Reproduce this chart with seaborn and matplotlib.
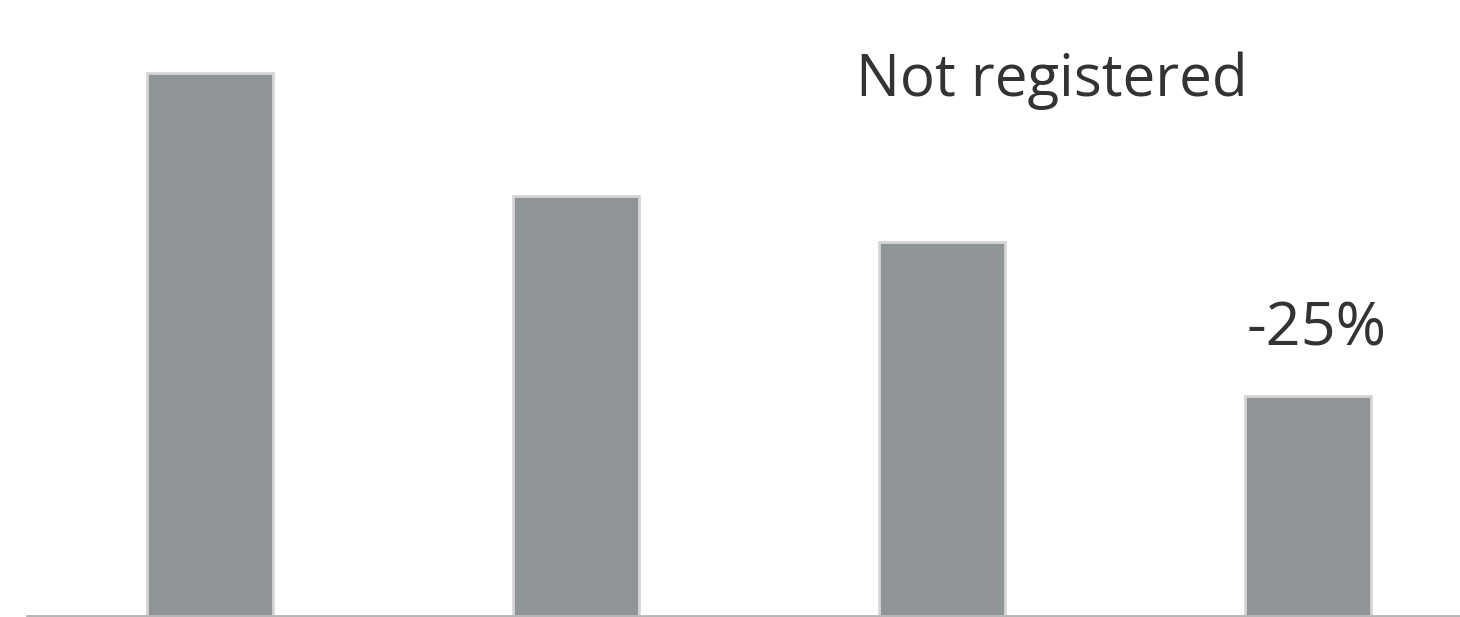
import matplotlib
matplotlib.use("Agg")
import matplotlib.pyplot as plt
import seaborn as sns
import pandas as pd

# Bar data
categories = ["A", "B", "C", "D"]
values = [543, 420, 374, 220]
title_text = "Not registered"
change_label = "-25%"

sns.set_theme(style="white")
plt.rcParams["font.family"] = ["Open Sans", "DejaVu Sans"]

df = pd.DataFrame({"category": categories, "value": values})

fig = plt.figure(figsize=(14.6, 6.17), dpi=100)
ax = fig.add_axes([27 / 1460, 1.5 / 617, 1 - 27 / 1460, 615 / 617])

sns.barplot(data=df, x="category", y="value", ax=ax, color="#8f9496",
            saturation=1, width=126 / 366, edgecolor="#d6d6d6", linewidth=2)

ax.set_xlim(-0.5, 3.415)
ax.set_ylim(0, 615)

for side in ["top", "right", "left"]:
    ax.spines[side].set_visible(False)
ax.spines["bottom"].set_color("#b5b5b5")
ax.spines["bottom"].set_linewidth(2)
ax.set_xticks([])
ax.set_yticks([])
ax.set_xlabel("")
ax.set_ylabel("")

ax.text(1.765, 520, title_text, ha="left", va="baseline",
        fontsize=42, color="#333333")
ax.text(3.022, values[-1] + 50, change_label, ha="center", va="baseline",
        fontsize=44, color="#333333")

fig.savefig("out.png", dpi=100)
